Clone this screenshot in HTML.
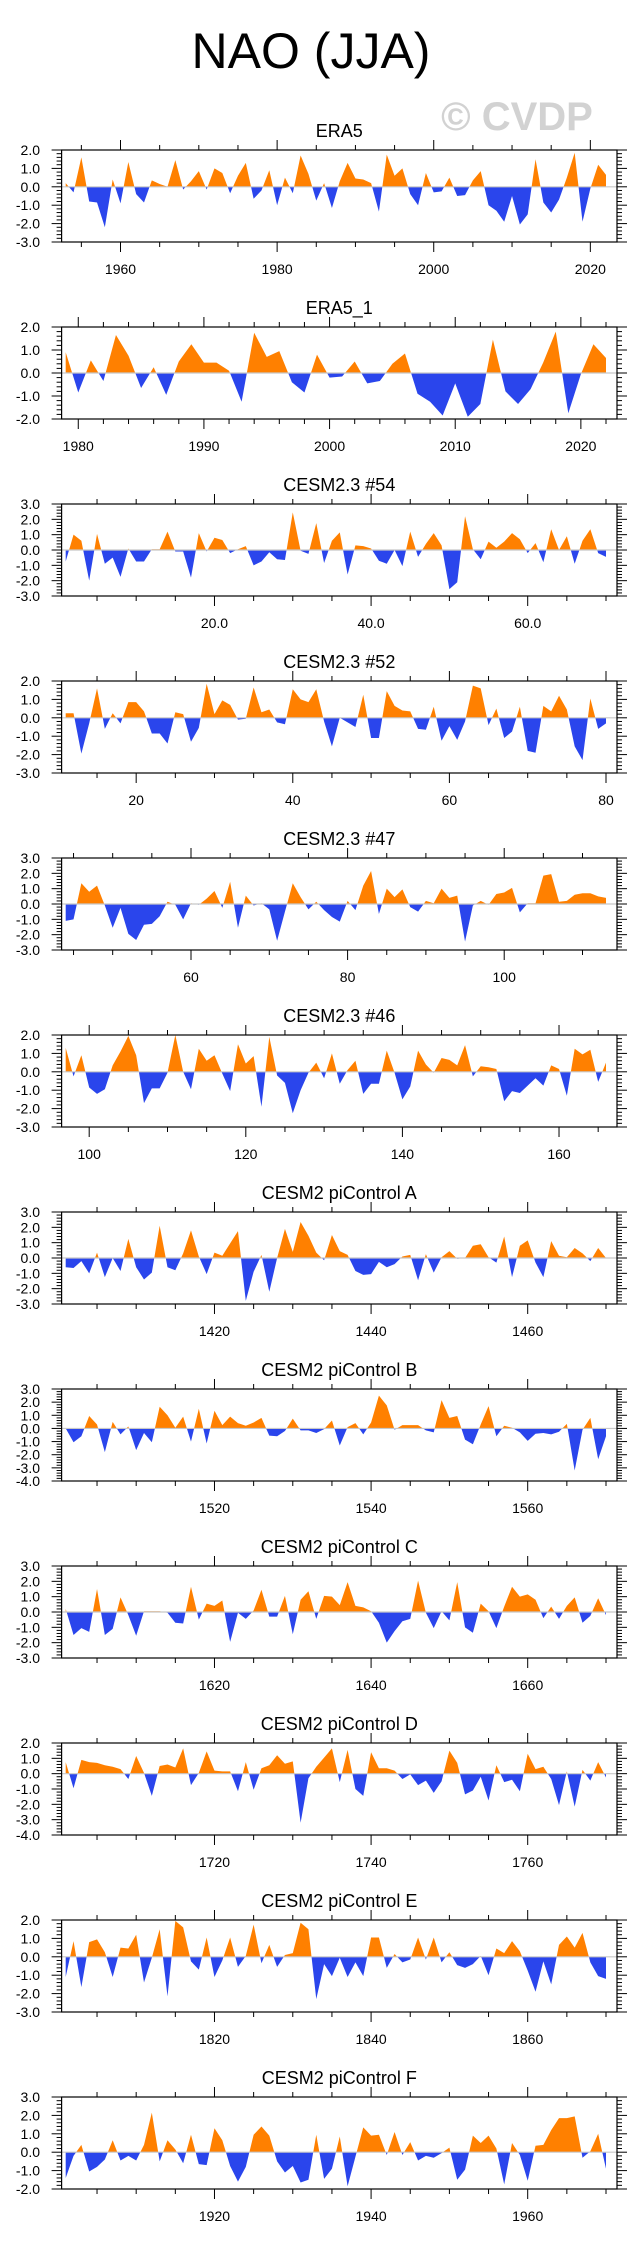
<!DOCTYPE html>
<html><head><meta charset="utf-8"><style>
html,body{margin:0;padding:0;background:#fff;}
svg{display:block;font-family:"Liberation Sans",Arial,sans-serif;}
</style></head><body>
<svg id="fig" width="641" height="2253" viewBox="0 0 641 2253" xmlns="http://www.w3.org/2000/svg">
<text x="311" y="68" font-size="50" text-anchor="middle" fill="#000">NAO (JJA)</text>
<text x="517" y="130" font-size="40" font-weight="bold" text-anchor="middle" fill="#d2d2d2">© CVDP</text>
</svg>
<script>
const titles = ["ERA5","ERA5_1","CESM2.3 #54","CESM2.3 #52","CESM2.3 #47","CESM2.3 #46","CESM2 piControl A","CESM2 piControl B","CESM2 piControl C","CESM2 piControl D","CESM2 piControl E","CESM2 piControl F"];
const startYears = [1953,1979,1,11,44,97,1401,1501,1601,1701,1801,1901];
const yMins = [-3,-2,-3,-3,-3,-3,-3,-4,-3,-4,-3,-2];
const yMaxs = [2,2,3,2,3,2,3,3,3,2,2,3];
const xMajor = [20,10,20,20,20,20,20,20,20,20,20,20];
const xMinor = [5,2,5,5,5,5,5,5,5,5,5,5];
const xLabelDecimals = [0,0,1,0,0,0,0,0,0,0,0,0];
const sERA5 = [0.2,-0.3,1.6,-0.8,-0.85,-2.2,0.4,-0.9,1.35,-0.4,-0.85,0.35,0.15,0.0,1.45,-0.15,0.3,0.85,-0.15,1.0,0.75,-0.35,0.6,1.3,-0.65,-0.2,0.9,-1.0,0.5,-0.35,1.7,0.7,-0.75,0.2,-1.15,0.3,1.3,0.45,0.4,0.2,-1.35,1.75,0.6,1.0,-0.4,-1.0,0.75,-0.3,-0.25,0.5,-0.5,-0.45,0.35,0.85,-1.0,-1.3,-1.9,-0.5,-2.05,-1.5,1.5,-0.85,-1.4,-0.7,0.5,1.85,-1.9,-0.1,1.2,0.65];
const sERA5_1 = [0.9,-0.85,0.55,-0.35,1.65,0.75,-0.65,0.25,-0.95,0.5,1.25,0.45,0.45,0.1,-1.25,1.75,0.7,0.95,-0.4,-0.85,0.8,-0.2,-0.15,0.5,-0.45,-0.35,0.4,0.85,-0.9,-1.25,-1.85,-0.45,-1.9,-1.35,1.45,-0.8,-1.35,-0.7,0.45,1.8,-1.75,-0.05,1.25,0.65];
const s54 = [-0.75,1.0,0.6,-2.0,1.05,-0.9,-0.5,-1.75,0.1,-0.75,-0.75,0.05,0.05,1.2,-0.1,-0.1,-1.8,1.1,-0.1,0.8,0.65,-0.2,0.05,0.25,-1.0,-0.75,-0.15,-0.6,-0.65,2.45,-0.05,-0.25,1.75,-0.85,0.6,1.15,-1.6,0.3,0.25,0.1,-0.7,-0.9,0.0,-1.05,1.2,-0.45,0.4,1.1,0.3,-2.55,-2.1,2.2,0.05,-0.6,0.55,0.15,0.55,1.1,0.7,-0.2,0.45,-0.8,1.35,0.0,0.9,-0.9,0.6,1.35,-0.2,-0.45];
const s52 = [0.25,0.25,-1.95,-0.3,1.6,-0.6,0.25,-0.3,0.85,0.85,0.35,-0.85,-0.85,-1.4,0.3,0.2,-1.3,-0.55,1.85,0.2,0.95,0.7,-0.1,-0.05,1.65,0.3,0.45,-0.25,-0.35,1.55,1.0,0.85,1.55,-0.2,-1.55,0.0,-0.25,-0.5,1.25,-1.1,-1.1,1.45,0.65,0.4,0.35,-0.6,-0.65,0.6,-1.25,-0.45,-1.2,-0.2,1.75,1.6,-0.4,0.5,-1.1,-0.75,0.6,-1.8,-1.9,0.65,0.35,1.2,0.45,-1.55,-2.3,1.05,-0.6,-0.3];
const s47 = [-1.1,-1.0,1.35,0.8,1.2,-0.1,-1.55,-0.25,-1.95,-2.35,-1.35,-1.3,-0.8,0.15,-0.05,-1.0,0.05,-0.05,0.35,0.85,-0.25,1.45,-1.55,0.55,-0.1,0.05,-0.35,-2.4,-0.5,1.35,0.45,-0.35,0.15,-0.4,-0.85,-1.15,0.2,-0.4,1.2,2.15,-0.65,1.0,0.45,0.95,-0.2,-0.5,0.2,0.05,1.0,0.4,0.55,-2.45,-0.1,0.2,-0.05,0.65,0.75,1.05,-0.55,0.05,0.05,1.85,1.95,0.15,0.2,0.6,0.7,0.7,0.5,0.4];
const s46 = [1.3,-0.25,0.9,-0.85,-1.2,-0.95,0.35,1.1,1.95,0.9,-1.7,-0.9,-0.9,-0.05,2.0,0.0,-0.95,1.25,0.6,0.9,-0.1,-1.05,1.5,0.45,0.85,-1.9,1.9,-0.2,-0.6,-2.25,-1.0,-0.05,0.5,-0.35,1.0,-0.65,0.1,0.6,-1.2,-0.65,-0.65,1.15,-0.05,-1.5,-0.8,1.15,0.4,-0.05,0.75,0.65,0.35,1.45,-0.25,0.3,0.25,0.15,-1.6,-1.05,-1.15,-0.75,-0.35,-0.75,0.35,0.15,-1.3,1.25,0.95,1.2,-0.55,0.5];
const sA = [-0.6,-0.65,-0.2,-1.0,0.35,-1.25,0.0,-0.85,1.25,-0.6,-1.4,-0.95,2.1,-0.6,-0.8,0.3,1.8,0.1,-1.05,0.35,0.15,0.95,1.75,-2.8,-0.9,0.2,-2.2,0.0,1.9,0.4,2.35,1.45,0.35,-0.15,1.5,0.45,0.2,-0.85,-1.1,-1.05,-0.25,-0.6,-0.4,0.1,0.2,-1.45,0.25,-0.95,0.05,0.45,-0.05,0.0,0.8,0.9,0.05,-0.3,1.4,-1.25,0.8,1.15,-0.3,-1.25,1.1,0.15,0.05,0.65,0.3,-0.2,0.65,0.0];
const sB = [0.0,-1.05,-0.6,0.95,0.3,-1.8,0.5,-0.45,0.15,-1.65,-0.35,-1.05,1.65,1.0,0.05,0.9,-1.0,1.5,-1.15,1.35,0.25,0.9,0.4,0.2,0.45,0.8,-0.55,-0.6,-0.2,0.75,-0.15,-0.15,-0.35,-0.05,0.6,-1.3,0.1,0.4,-0.45,0.45,2.5,1.75,-0.1,0.25,0.25,0.25,-0.15,-0.3,2.15,0.8,0.95,-0.85,-1.2,0.3,1.7,-0.6,0.2,0.05,-0.3,-0.95,-0.4,-0.35,-0.45,-0.25,0.35,-3.2,-0.1,0.8,-2.35,-0.6];
const sC = [0.2,-1.5,-1.05,-1.3,1.5,-1.5,-1.1,0.95,-0.2,-1.55,0.05,0.05,0.05,-0.05,-0.7,-0.75,1.65,-0.5,0.55,0.4,0.75,-1.95,-0.05,-0.45,0.1,1.45,-0.3,-0.3,1.05,-1.45,0.8,1.35,-0.45,1.05,1.0,0.45,1.95,0.4,0.3,0.05,-0.7,-2.0,-1.25,-0.6,-0.45,2.05,-0.05,-1.05,0.05,-0.55,1.95,-1.0,-1.35,0.55,0.05,-1.05,0.35,1.65,1.0,1.15,0.8,-0.4,0.35,-0.45,0.4,0.95,-0.7,-0.25,0.9,-0.2];
const sD = [0.75,-0.95,0.9,0.75,0.7,0.55,0.45,0.3,-0.35,1.15,0.05,-1.45,0.5,0.6,0.4,1.65,-0.75,0.05,1.45,0.2,0.15,0.15,-1.15,0.75,-1.05,0.35,0.55,1.2,0.65,0.8,-3.2,-0.3,0.45,1.05,1.65,-0.55,1.55,-1.0,-1.45,1.4,0.35,0.35,0.2,-0.35,-0.05,-0.75,-0.45,-1.25,-0.5,1.5,0.7,-1.35,-1.1,-0.2,-1.75,0.55,-0.55,-0.4,-1.15,1.3,0.3,0.45,-0.35,-2.05,0.15,-2.15,0.25,-0.45,0.75,-0.25];
const sE = [-1.1,0.85,-1.65,0.8,0.95,0.25,-1.1,0.5,0.45,1.2,-1.4,-0.05,1.5,-2.15,1.95,1.6,-0.25,-0.7,1.05,-1.1,-0.2,1.05,-0.55,0.05,1.75,-0.35,0.65,-0.55,0.1,0.2,1.85,1.5,-2.3,-0.4,-1.05,-0.05,-1.1,-0.3,-1.05,1.05,1.05,-0.6,0.15,-0.3,-0.15,1.05,-0.15,1.05,-0.3,0.25,-0.45,-0.6,-0.4,0.05,-1.0,0.45,0.2,0.85,0.3,-0.75,-1.9,-0.25,-1.5,0.65,1.1,0.5,1.3,-0.3,-1.05,-1.2];
const sF = [-1.4,-0.2,0.4,-1.05,-0.8,-0.4,0.65,-0.45,-0.2,-0.45,0.4,2.15,-0.5,0.65,0.15,-0.6,0.95,-0.65,-0.7,1.3,0.65,-0.75,-1.6,-0.8,0.95,1.4,0.9,-0.5,-1.1,-0.75,-1.65,-1.5,0.95,-1.45,-0.9,0.85,-1.85,-0.25,1.35,0.9,0.95,-0.15,1.1,-0.15,0.55,-0.45,-0.2,-0.3,-0.05,0.25,-1.5,-0.95,0.9,0.5,0.9,0.2,-1.75,0.5,-0.15,-1.55,0.35,0.4,1.2,1.85,1.85,1.95,-0.3,0.05,1.0,-0.9];
const series = [sERA5,sERA5_1,s54,s52,s47,s46,sA,sB,sC,sD,sE,sF];
const panelSlugs = ["era5","era5-1","cesm23-54","cesm23-52","cesm23-47","cesm23-46","picontrol-a","picontrol-b","picontrol-c","picontrol-d","picontrol-e","picontrol-f"];

const NS = "http://www.w3.org/2000/svg";
const svg = document.getElementById("fig");
function mk(tag, attrs, parent){
  const e = document.createElementNS(NS, tag);
  for (const k in attrs) e.setAttribute(k, attrs[k]);
  (parent||svg).appendChild(e);
  return e;
}
const PL = 61.6, PR = 617, PH = 92, DX0 = 65.7, DX1 = 606, PITCH = 177, TOP0 = 150;
const ORANGE = "#ff8000", BLUE = "#2a45ec";

for (let p = 0; p < series.length; p++) {
  const data = series[p];
  const n = data.length;
  const t0 = startYears[p];
  const top = TOP0 + p * PITCH, bot = top + PH;
  const step = (DX1 - DX0) / (n - 1);
  const xS = t => DX0 + (t - t0) * step;
  const yS = v => bot - (v - yMins[p]) / (yMaxs[p] - yMins[p]) * PH;
  const tMin = t0 - (DX0 - PL) / step, tMax = t0 + (PR - DX0) / step;
  const slug = panelSlugs[p];

  const g = mk("g", {});
  
  

  const title = mk("text", {x: (PL+PR)/2, y: top - 13, "font-size": 18, "text-anchor": "middle", fill: "#000"}, g);
  
  
  title.textContent = titles[p];

  // clip regions
  const y0 = yS(0);
  const cu = mk("clipPath", {id: "cu" + p}, g);
  mk("rect", {x: PL, y: top, width: PR - PL, height: y0 - top}, cu);
  const cd = mk("clipPath", {id: "cd" + p}, g);
  mk("rect", {x: PL, y: y0, width: PR - PL, height: bot - y0}, cd);

  let d = "M" + xS(t0).toFixed(2) + "," + y0.toFixed(2);
  for (let i = 0; i < n; i++) d += " L" + xS(t0 + i).toFixed(2) + "," + yS(data[i]).toFixed(2);
  d += " L" + xS(t0 + n - 1).toFixed(2) + "," + y0.toFixed(2) + " Z";
  const pos = mk("path", {d: d, fill: ORANGE, "clip-path": "url(#cu" + p + ")"}, g);
  
  
  const neg = mk("path", {d: d, fill: BLUE, "clip-path": "url(#cd" + p + ")"}, g);
  
  

  const zl = mk("line", {x1: PL, x2: PR, y1: y0, y2: y0, stroke: "#c8c8c8", "stroke-width": 1.2}, g);
  
  

  const frame = mk("rect", {x: PL, y: top, width: PR - PL, height: PH, fill: "none", stroke: "#000", "stroke-width": 1.2}, g);
  
  

  // x ticks
  const xt = mk("g", {stroke: "#000", "stroke-width": 1}, g);
  
  
  const mn = xMinor[p];
  for (let t = Math.ceil(tMin / mn) * mn; t <= tMax; t += mn) {
    const x = xS(t);
    const major = (t % xMajor[p] === 0);
    const L = major ? 10 : 5;
    mk("line", {x1: x, x2: x, y1: bot, y2: bot + L}, xt);
    mk("line", {x1: x, x2: x, y1: top, y2: top - L}, xt);
    if (major) {
      const lab = mk("text", {x: x, y: bot + 32, "font-size": 14, "text-anchor": "middle", fill: "#000", stroke: "none"}, g);
      
      
      lab.textContent = t.toFixed(xLabelDecimals[p]);
    }
  }
  // y ticks
  const yt = mk("g", {stroke: "#000", "stroke-width": 1}, g);
  
  
  const nMinor = Math.round((yMaxs[p] - yMins[p]) / 0.2);
  for (let k = 0; k <= nMinor; k++) {
    const v = yMins[p] + k * 0.2;
    const y = yS(v);
    const major = (k % 5 === 0);
    const L = major ? 10 : 5;
    mk("line", {x1: PL, x2: PL - L, y1: y, y2: y}, yt);
    mk("line", {x1: PR, x2: PR + L, y1: y, y2: y}, yt);
    if (major) {
      const lab = mk("text", {x: 40, y: y + 5, "font-size": 14, "text-anchor": "end", fill: "#000", stroke: "none"}, g);
      
      
      lab.textContent = (Math.round(v * 10) / 10).toFixed(1);
    }
  }
}
</script>
</body></html>
